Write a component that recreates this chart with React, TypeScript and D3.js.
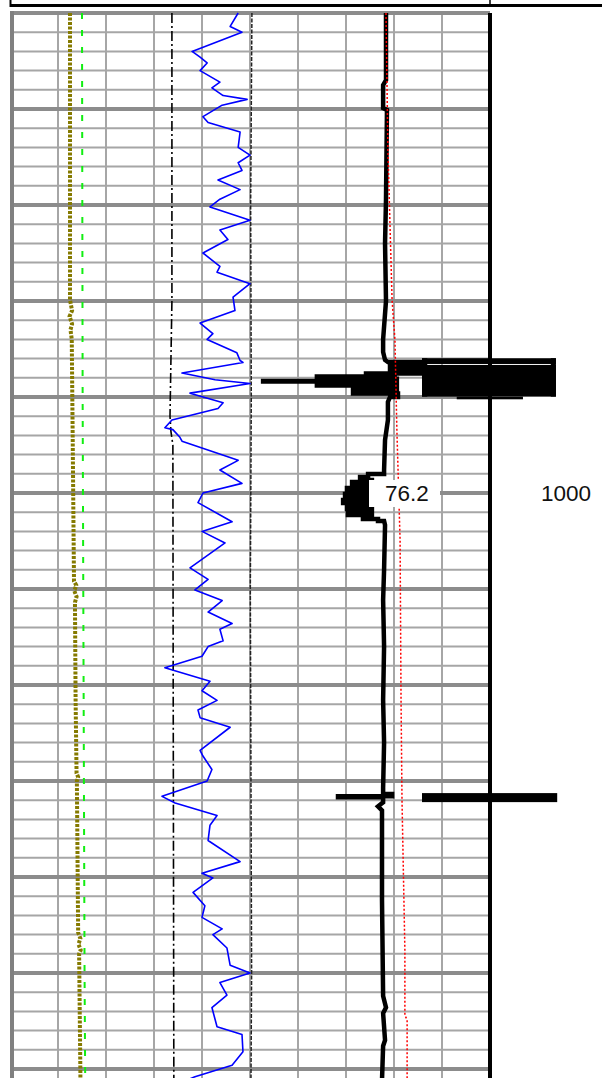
import React from 'react';
import * as d3 from 'd3';

// ---------- data (depth, value) ----------
const DEPTH_TOP = 750;
const DEPTH_BOTTOM = 1310;
const TRACK_MIN = 0;
const TRACK_MAX = 150;

const depthLabels = [1000];
const valueLabels: { depth: number; text: string }[] = [{ depth: 1000, text: '76.2' }];

const grCurve: [number, number][] = [
  [750, 71.3], [757, 68.8], [760, 72.5], [770, 56.9], [773, 59.4], [776, 61.6], [780, 59.4], [786, 65.6],
  [789, 63.1], [793, 66.6], [795, 74.1], [798, 66.3], [804, 60.3], [807, 61.9], [812, 71.9], [820, 71.3],
  [824, 75], [828, 71.3], [832, 72.5], [837, 65], [842, 71.9], [847, 65.6], [851, 62.5], [858, 75],
  [863, 65.6], [868, 68.1], [875, 60.3], [880, 64.1], [882, 65.6], [885, 64.7], [891, 75], [898, 69.7],
  [905, 70.3], [911.5, 59.4], [917, 63.4], [920, 61.6], [927, 70.9], [931, 71.9], [932, 72.8], [937.5, 53.75],
  [941, 64.1], [943, 75], [948, 56.25], [953, 66.6], [956, 65], [962, 50.6], [966, 48.4], [967, 50.9],
  [971, 53.1], [973, 53.75], [983, 71.3], [988, 65.6], [995, 72.5], [1000, 60.3], [1005, 58.75], [1015, 69.4],
  [1020, 60], [1026, 67.2], [1039, 56.25], [1045, 61.9], [1050.5, 57.8], [1056, 66.3], [1062, 61.9], [1068, 69.4],
  [1071, 65.6], [1077, 66.6], [1080, 61.9], [1085, 60], [1091, 48.4], [1098, 62.5], [1103, 60], [1108, 64.7],
  [1113, 58.75], [1117, 59.4], [1122, 68.8], [1134, 59.4], [1137, 60.3], [1144, 63.1], [1150, 61.6], [1158, 47.5],
  [1161.5, 51.6], [1168, 64.7], [1173, 62.5], [1181, 61.9], [1192, 71.9], [1198, 60], [1200.5, 63.4], [1208, 57.2],
  [1215, 60.9], [1221, 60], [1227, 66.3], [1230, 63.4], [1237, 67.8], [1246, 68.8], [1250, 75], [1255, 65.6],
  [1261.5, 67.8], [1268, 63.1], [1278, 64.7], [1282, 72.5], [1291, 72.8], [1298, 69.4], [1304, 57.8], [1306, 55],
];

const resCurve: [number, number][] = [
  [750, 117.5], [785, 117.5], [787.5, 116.6], [799.5, 116.6], [800.5, 117.8], [847, 117.5], [870, 117.2],
  [900, 117.5], [920, 116.6], [926.6, 116.6], [930.7, 117.2],
  [931.8, 118.1], [931.8, 128.75], [934.1, 128.75], [934.1, 118.75], [935.9, 118.75], [935.9, 128.75],
  [937.8, 128.75], [937.8, 111.25], [939.1, 111.25], [939.3, 120.9], [939.3, 95.9], [940.5, 95.9],
  [940.5, 120.9], [941.7, 120.9], [941.7, 79.1], [941.9, 79.1], [941.9, 120.9], [943, 120.9], [943, 95.9],
  [944, 95.9], [944, 120.9], [945.8, 120.9], [945.8, 107.2],
  [948.2, 107.2], [948.2, 121.25], [950, 121.25], [950, 118.75], [952.6, 118.1],
  [962, 118.1], [972.4, 117.2], [988, 116.9],
  [989.1, 116.9], [990.1, 116.9], [990.1, 111.9], [991.7, 111.9], [991.7, 109.4], [993.2, 109.4],
  [993.2, 113.1], [994.3, 113.1], [994.3, 106.9], [995.8, 106.9], [995.8, 113.1], [997.4, 113.1],
  [997.4, 105.3], [999, 105.3], [999, 113.1], [1000.5, 113.1], [1000.5, 104.7], [1002.1, 104.7],
  [1002.1, 113.1], [1003.6, 113.1], [1003.6, 104.1], [1005.2, 104.1], [1005.2, 113.1], [1006.8, 113.1],
  [1006.8, 105.3], [1008.3, 105.3], [1008.3, 113.1], [1009.9, 113.1], [1009.9, 105.6], [1011.5, 105.6],
  [1011.5, 113.1], [1012.5, 113.1], [1012.5, 110.3], [1013.5, 110.3], [1013.5, 115], [1014.6, 115],
  [1014.6, 116.9], [1016.7, 117.2],
  [1040, 116.9], [1055.7, 116.6], [1080, 116.9], [1107.8, 116.6], [1130, 116.9], [1153.6, 116.6],
  [1156.8, 116.6], [1156.8, 119.4], [1158, 119.4], [1158, 102.5], [1158.5, 102.5], [1158.5, 116.6],
  [1161.1, 116.6], [1163.2, 115], [1165.3, 116.25],
  [1212, 116.25], [1262, 116.6], [1268, 117.5], [1271, 116.6], [1285, 117.2], [1288, 116.6], [1306, 116.25],
];

// off-scale excursions: [topDepth, bottomDepth, fromValue, toValue]
const excursions: [number, number, number, number][] = [
  [929.8, 949.8, 128.75, 130.4],
  [929.8, 932.8, 128.75, 170.6],
  [933.3, 949.8, 128.75, 170.6],
  [929.8, 949.8, 169.0, 170.6],
  [949.8, 951.2, 139.6, 160.3],
  [1156.3, 1161.0, 128.75, 171.0],
];

const redCurve: [number, number][] = [
  [750, 117.5], [821.4, 118.1], [899.5, 119.4], [920.3, 120.3], [967.2, 120.9], [1024.5, 121.9],
  [1107.8, 122.2], [1159.9, 122.5], [1238, 123.4], [1271.9, 123.4], [1274.5, 124.1], [1306, 124.1],
];

const oliveCurve: [number, number][] = [
  [750, 18.75], [899.5, 18.75], [905, 19.4], [908, 18.6], [912, 19.4], [915, 18.9], [920, 19.3],
  [972.4, 19.6], [1046, 20.0], [1048, 20.7], [1051, 20.1], [1054, 20.8], [1057, 20.3], [1107.8, 20.5],
  [1146, 20.8], [1148, 21.3], [1150, 20.9], [1229, 21.3], [1232, 22.0], [1235, 21.4], [1238, 22.1],
  [1240, 21.6], [1303, 22.0], [1306, 22.0],
];

const greenCurve: [number, number][] = [
  [750, 22.5], [850, 22.6], [950, 22.7], [1050, 22.9], [1150, 23.1], [1250, 23.3], [1306, 23.5],
];

const dashDotCurve: [number, number][] = [
  [750, 50.6], [900, 50.6], [960, 50.0], [968, 50.3], [975, 50.9], [1100, 51.0], [1306, 51.2],
];

const dashedCurve: [number, number][] = [
  [750, 75.6], [850, 75.2], [950, 75.4], [1050, 75.1], [1150, 75.3], [1250, 75.5], [1306, 75.3],
];

export default function App() {
  const x = d3.scaleLinear().domain([TRACK_MIN, TRACK_MAX]).range([10, 490]);
  const y = d3
    .scaleLinear()
    .domain([DEPTH_TOP, DEPTH_BOTTOM])
    .range([13, 13 + (DEPTH_BOTTOM - DEPTH_TOP) * 1.92]);
  const line = d3
    .line<[number, number]>()
    .x((d) => x(d[1]))
    .y((d) => y(d[0]));

  const hTicks = d3.range(DEPTH_TOP, DEPTH_BOTTOM + 1, 10);
  const vTicks = d3.range(TRACK_MIN, TRACK_MAX + 1, 15);
  const bottom = 1078;

  return (
    <svg
      width={602}
      height={1078}
      style={{ position: 'absolute', left: 0, top: 0, background: '#fff' }}
    >
      {/* header box */}
      <line x1={10} x2={602} y1={5.5} y2={5.5} stroke="#000" strokeWidth={3} />
      <line x1={10.5} x2={10.5} y1={0} y2={7} stroke="#000" strokeWidth={2} />
      <line x1={490} x2={490} y1={0} y2={5} stroke="#000" strokeWidth={1.5} />

      {/* grid */}
      {hTicks
        .filter((d) => d % 50 !== 0)
        .map((d) => (
          <line key={'h' + d} x1={10} x2={490} y1={y(d)} y2={y(d)} stroke="#a6a6a6" strokeWidth={2} />
        ))}
      {vTicks.slice(1, -1).map((v) => (
        <line key={'v' + v} x1={x(v)} x2={x(v)} y1={13} y2={bottom} stroke="#a6a6a6" strokeWidth={2} />
      ))}
      {hTicks
        .filter((d) => d % 50 === 0)
        .map((d) => (
          <line key={'H' + d} x1={10} x2={490} y1={y(d)} y2={y(d)} stroke="#8c8c8c" strokeWidth={4} />
        ))}
      <line x1={12} x2={12} y1={11} y2={bottom} stroke="#808080" strokeWidth={4} />

      {/* curves */}
      <path d={line(oliveCurve)!} fill="none" stroke="#857a00" strokeWidth={4} strokeDasharray="3,1.5" />
      <path d={line(greenCurve)!} fill="none" stroke="#11ee11" strokeWidth={2} strokeDasharray="6,11" />
      <path d={line(dashDotCurve)!} fill="none" stroke="#000" strokeWidth={1.6} strokeDasharray="10,3,2,3" />
      <path d={line(dashedCurve)!} fill="none" stroke="#222" strokeWidth={1.5} strokeDasharray="4,1.5" />
      <path d={line(grCurve)!} fill="none" stroke="#0000ff" strokeWidth={1.6} strokeLinejoin="round" />
      <path d={line(resCurve)!} fill="none" stroke="#000" strokeWidth={4.5} strokeLinejoin="miter" />
      {excursions.map((e, i) => (
        <rect
          key={'e' + i}
          x={x(e[2])}
          y={y(e[0])}
          width={x(e[3]) - x(e[2])}
          height={y(e[1]) - y(e[0])}
          fill="#000"
        />
      ))}
      <path d={line(redCurve)!} fill="none" stroke="#ff0000" strokeWidth={1.5} strokeDasharray="2,2" />

      {/* track boundary */}
      <line x1={490} x2={490} y1={13} y2={bottom} stroke="#000" strokeWidth={4} />

      {/* value label */}
      {valueLabels.map((l) => (
        <g key={'vl' + l.depth}>
          <rect x={369} y={y(l.depth) - 13} width={71} height={27} fill="#fff" />
          <text
            x={385}
            y={y(l.depth) + 8}
            fontFamily="Arial, 'Liberation Sans', sans-serif"
            fontSize={22.5}
            fill="#111"
          >
            {l.text}
          </text>
        </g>
      ))}

      {/* depth labels */}
      {depthLabels.map((d) => (
        <text
          key={'d' + d}
          x={566}
          y={y(d) + 8}
          textAnchor="middle"
          fontFamily="Arial, 'Liberation Sans', sans-serif"
          fontSize={22.5}
          fill="#111"
        >
          {d}
        </text>
      ))}
    </svg>
  );
}
